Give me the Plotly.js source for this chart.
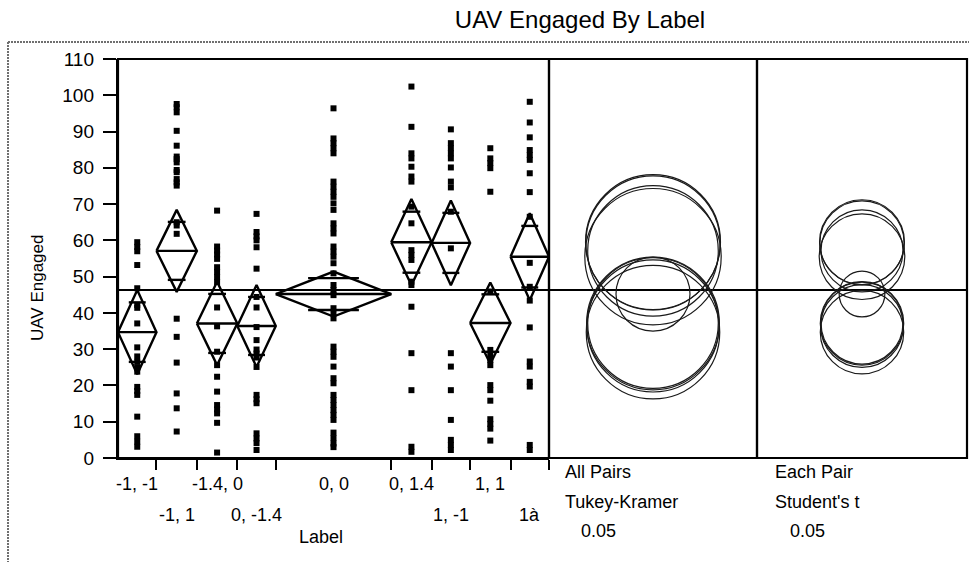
<!DOCTYPE html>
<html><head><meta charset="utf-8">
<script src="https://cdn.plot.ly/plotly-3.0.1.min.js"></script>
<style>html,body{margin:0;padding:0;background:#fff;}</style>
</head><body>
<div id="chart" style="width:969px;height:562px"></div>
<script>
// ---- data ----
const labels = ["-1, -1","-1, 1","-1.4, 0","0, -1.4","0, 0","0, 1.4","1, -1","1, 1","1à"];
const labelRow = [0,1,0,1,0,0,1,0,1];
const groupN = [20,21,21,20,60,21,20,21,20];
const g1 = [59.5,58.2,57,53.2,46.8,42.2,41.4,37.1,30.5,28,26.5,25,23.8,19.6,18.5,17.4,11.4,6,4.5,3.1];
const g2 = [97.6,96.7,95.3,90.2,86.1,83.1,82.4,81.5,79.4,78.8,76.9,76,75.1,65,64.1,61.8,38.4,33.4,26.3,17.8,13.7,7.3];
const g3 = [68.2,58.3,57.2,56.1,54.9,52.6,51.3,49.9,48.5,41.5,36.3,29.3,25.6,22.4,18.3,14.6,13.4,12.3,9.7,1.5];
const g4 = [67.3,62.3,61.1,60,58.1,52.2,44.4,41.5,36.1,32.5,29.9,28.8,27.7,25.1,17.4,16.2,15.1,6.8,5.4,4.1,2.2];
const g5 = [96.4,88.1,86.8,85.4,84.0,76.2,74.8,73.4,72.0,70.2,68.4,64.7,63.3,61.9,58.3,56.9,55.5,53.7,50.9,47.7,46.3,44.9,41.3,39.9,38.5,30.7,29.3,27.9,25.2,22.0,20.6,17.4,16.0,14.6,13.2,11.9,10.5,7,5.5,4,3];
const g6 = [102.4,91.3,84.0,82.6,80.3,77.6,76.2,69.3,64.7,57.3,56.0,54.6,48.6,47.7,41.7,28.9,18.7,3.1,1.7];
const g7 = [90.6,86.8,85.4,84.0,82.6,80.1,76.2,74.6,67.9,57.8,28.9,25.2,18.7,10.5,5.0,3.6,2.2];
const g8 = [85.4,82.6,81.3,79.9,73.4,45.9,29.8,28.4,27.0,25.6,20.1,18.7,15.8,10.7,9.4,8.1,4.8];
const g9 = [98.2,92.5,88.4,84.9,83.5,82.2,78.5,73.3,66.5,53.8,47.2,43.4,36.0,26.6,25.2,21.0,19.7,3.6,2.2];
const groupMeans = [34.7,57.1,37.1,36.4,45.2,59.5,59.3,37.2,55.5];
const ciHalf = [11.6,11.3,11.5,11.3,6.2,11.9,11.7,11.2,12.0];
const grandMean = 46.3;
const tukeyRadius = [18.4,18.0,18.3,18.2,10.2,18.6,18.5,18.0,18.8];
const studentRadius = [11.5,11.3,11.5,11.4,6.3,11.7,11.6,11.3,11.8];
const yTicks = [0,10,20,30,40,50,60,70,80,90,100,110];

// ---- layout geometry (pixels) ----
const W = 969, H = 562;
const mL = 118, mR = 2, mT = 59, mB = 104;
const plotW = W - mL - mR, plotH = H - mT - mB;
const px2paperX = p => (p - mL) / plotW;
const px2paperY = p => (H - mB - p) / plotH;
const dMain = px2paperX(549), d2 = px2paperX(757);
const pxPerUnit = plotH / 110;
const h2 = ((757 - 549) / 2) / pxPerUnit;
const h3 = ((mL + plotW - 757) / 2) / pxPerUnit;

const groups = [g1,g2,g3,g4,g5,g6,g7,g8,g9];
const cum = [0];
groupN.forEach(n => cum.push(cum[cum.length-1] + n));
const centers = groupN.map((n,i) => cum[i] + n/2);

const traces = [];
// points
const px = [], py = [];
groups.forEach((g,i) => g.forEach(v => { px.push(centers[i]); py.push(v); }));
traces.push({type:'scatter', mode:'markers', x:px, y:py, xaxis:'x', yaxis:'y',
  marker:{symbol:'square', size:6, color:'#000'}, hoverinfo:'skip', cliponaxis:false});
// diamonds
const dx = [], dy = [];
groups.forEach((g,i) => {
  const l = cum[i], r = cum[i+1], c = centers[i], m = groupMeans[i], h = ciHalf[i];
  const w = r - l, o = h / Math.SQRT2, ol = 0.22 * w;
  dx.push(l, c, r, c, l, null, l, r, null, c-ol, c+ol, null, c-ol, c+ol, null);
  dy.push(m, m+h, m, m-h, m, null, m, m, null, m+o, m+o, null, m-o, m-o, null);
});
traces.push({type:'scatter', mode:'lines', x:dx, y:dy, xaxis:'x', yaxis:'y',
  line:{color:'#000', width:2.4}, hoverinfo:'skip', cliponaxis:false, connectgaps:false});
// anchors for circle panels
traces.push({type:'scatter', mode:'markers', x:[0], y:[grandMean], xaxis:'x2', yaxis:'y', marker:{opacity:0}, hoverinfo:'skip'});
traces.push({type:'scatter', mode:'markers', x:[0], y:[grandMean], xaxis:'x3', yaxis:'y', marker:{opacity:0}, hoverinfo:'skip'});

const shapes = [];
// panel boxes
[[0,dMain],[dMain,d2],[d2,1]].forEach(([a,b]) => shapes.push({type:'rect', xref:'paper', yref:'paper',
  x0:a, x1:b, y0:0, y1:1, line:{color:'#000', width:2.2}}));
// grand mean line
shapes.push({type:'line', xref:'paper', yref:'y', x0:0, x1:1, y0:grandMean, y1:grandMean, line:{color:'#000', width:2}});
// comparison circles
groupMeans.forEach((m,i) => {
  const rt = tukeyRadius[i], rs = studentRadius[i];
  shapes.push({type:'circle', xref:'x2', yref:'y', x0:-rt, x1:rt, y0:m-rt, y1:m+rt, line:{color:'#1a1a1a', width:1.2}});
  shapes.push({type:'circle', xref:'x3', yref:'y', x0:-rs, x1:rs, y0:m-rs, y1:m+rs, line:{color:'#1a1a1a', width:1.2}});
});
// outer frame
const fx = px2paperX(8), fy = px2paperY(42);
shapes.push({type:'line', xref:'paper', yref:'paper', x0:fx, x1:px2paperX(969), y0:fy, y1:fy, line:{color:'#6f6f6f', width:2, dash:'2px,1px'}});
shapes.push({type:'line', xref:'paper', yref:'paper', x0:fx, x1:fx, y0:fy, y1:px2paperY(562), line:{color:'#6f6f6f', width:2, dash:'2px,1px'}});

const font = 'Liberation Sans, Arial, sans-serif';
const annotations = [];
labels.forEach((t,i) => annotations.push({text:t, xref:'x', yref:'paper', x:centers[i],
  y: px2paperY(labelRow[i] === 0 ? 484 : 515), showarrow:false, xanchor:'center', yanchor:'middle',
  font:{family:font, size:18, color:'#000'}}));
annotations.push({text:'Label', xref:'paper', yref:'paper', x:px2paperX(321), y:px2paperY(537),
  showarrow:false, xanchor:'center', yanchor:'middle', font:{family:font, size:18, color:'#000'}});
annotations.push({text:'UAV Engaged', xref:'paper', yref:'paper', x:px2paperX(37), y:px2paperY(288),
  textangle:-90, showarrow:false, xanchor:'center', yanchor:'middle', font:{family:font, size:17, color:'#000'}});
const side = [
  ['All Pairs',563,472],['Tukey-Kramer',563,502],['0.05',579,531],
  ['Each Pair',773,472],["Student's t",773,502],['0.05',788,531]
];
side.forEach(([t,x,y]) => annotations.push({text:t, xref:'paper', yref:'paper', x:px2paperX(x), y:px2paperY(y),
  showarrow:false, xanchor:'left', yanchor:'middle', font:{family:font, size:18, color:'#000'}}));

const layout = {
  width:W, height:H, margin:{l:mL, r:mR, t:mT, b:mB, pad:0},
  paper_bgcolor:'#fff', plot_bgcolor:'#fff', showlegend:false,
  font:{family:font, color:'#000'},
  title:{text:'UAV Engaged By Label', x:580/W, xref:'container', xanchor:'center',
    y:1-20/H, yref:'container', yanchor:'middle', font:{family:font, size:24, color:'#000'}},
  xaxis:{domain:[0,dMain], range:[0,cum[cum.length-1]], anchor:'y', showgrid:false, zeroline:false,
    showline:true, linecolor:'#000', linewidth:2.2, ticks:'outside', tickvals:cum.slice(1), ticklen:10,
    tickwidth:2, tickcolor:'#000', showticklabels:false, fixedrange:true},
  xaxis2:{domain:[dMain,d2], range:[-h2,h2], anchor:'y', visible:false, fixedrange:true},
  xaxis3:{domain:[d2,1], range:[-h3,h3], anchor:'y', visible:false, fixedrange:true},
  yaxis:{domain:[0,1], range:[0,110], anchor:'x', showgrid:false, zeroline:false, showline:true,
    linecolor:'#000', linewidth:2.2, ticks:'outside', tickvals:yTicks, ticklen:13, tickwidth:2,
    tickcolor:'#000', ticklabelstandoff:5, tickfont:{family:font, size:19, color:'#000'}, fixedrange:true},
  shapes:shapes, annotations:annotations
};
Plotly.newPlot('chart', traces, layout, {displayModeBar:false, staticPlot:true});
</script>
</body></html>
